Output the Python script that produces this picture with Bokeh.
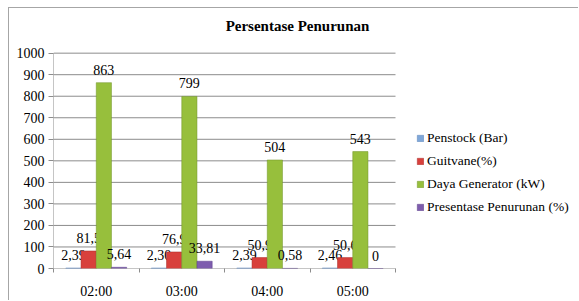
from bokeh.plotting import figure
from bokeh.models import ColumnDataSource, Legend, LegendItem, FixedTicker, Range1d, Label
from bokeh.core.properties import value
from bokeh.embed import file_html
from bokeh.resources import INLINE

categories = ["02:00", "03:00", "04:00", "05:00"]
penstock = [2.39, 2.30, 2.39, 2.46]
guitvane = [81.5, 76.9, 50.9, 50.6]
daya = [863, 799, 504, 543]
presentase = [5.64, 33.81, 0.58, 0]

series_names = ["Penstock (Bar)", "Guitvane(%)", "Daya Generator (kW)", "Presentase Penurunan (%)"]
series_values = [penstock, guitvane, daya, presentase]
series_decimals = [2, 1, 0, 2]
series_colors = ["#7FA7D9", "#D8403C", "#97BF3C", "#7E5DAE"]
series_lines = ["#5A83B8", "#A82C29", "#6E9226", "#5B3F88"]

y_ticks = [0, 100, 200, 300, 400, 500, 600, 700, 800, 900, 1000]
title_text = "Persentase Penurunan"

SERIF = "Liberation Serif"
GRID = "#8c8c8c"

W, H = 570, 293
LEFT, BOTTOM = 44, 31
CAT_PX = 85.5          # pixel width of one category slot
AXIS_PX = 217          # pixel height of the value axis (0..max tick)
frame_w = W - LEFT
frame_h = H - BOTTOM
x_end = len(categories) * frame_w / (len(categories) * CAT_PX)
y_end = max(y_ticks) * frame_h / AXIS_PX

p = figure(width=W, height=H, output_backend="svg", toolbar_location=None,
           x_range=Range1d(0, x_end), y_range=Range1d(0, y_end),
           min_border_left=LEFT, min_border_right=0, min_border_top=0, min_border_bottom=BOTTOM)
p.styles = {"border-left": "1px solid #a6a6a6", "border-top": "1px solid #a6a6a6",
            "margin-left": "8px", "margin-top": "7px"}

p.outline_line_color = None
p.xgrid.grid_line_color = None
p.ygrid.grid_line_color = None

n_t = len(y_ticks)
# horizontal gridlines spanning only the category area
p.segment(x0=[0] * n_t, x1=[len(categories)] * n_t, y0=y_ticks, y1=y_ticks,
          line_color=GRID, line_width=1)
# value axis line, only up to the top tick
p.segment(x0=[0], x1=[0], y0=[min(y_ticks)], y1=[max(y_ticks)], line_color=GRID, line_width=1)

bw = 0.178
items = []
for j, (name, vals, dec, col, lc) in enumerate(zip(series_names, series_values, series_decimals, series_colors, series_lines)):
    xs = [i + 0.5 + (j - 1.5) * bw for i in range(len(categories))]
    labels = ["0" if v == 0 else (f"{v:.{dec}f}".replace(".", ",")) for v in vals]
    src = ColumnDataSource(dict(x=xs, top=vals, label=labels))
    r = p.vbar(x="x", top="top", width=bw, bottom=0, source=src,
               fill_color=col, line_color=lc, line_width=0.5)
    p.text(x="x", y="top", text="label", source=src, text_align="center",
           text_baseline="bottom", y_offset=-8, text_font=value(SERIF),
           text_font_size="14px", text_color="#000000")
    items.append(LegendItem(label=name, renderers=[r]))

# title
p.add_layout(Label(x=244, y=243, x_units="screen", y_units="screen", text=title_text,
                   text_align="center", text_baseline="middle", text_font=SERIF,
                   text_font_size="15px", text_font_style="bold", text_color="#000000"))

# axes
xa = p.xaxis[0]
xa.ticker = FixedTicker(ticks=[i + 0.5 for i in range(len(categories))],
                        minor_ticks=list(range(len(categories) + 1)))
xa.major_label_overrides = {i + 0.5: c for i, c in enumerate(categories)}
xa.major_tick_line_color = None
xa.major_tick_out = 0
xa.major_tick_in = 0
xa.minor_tick_line_color = GRID
xa.minor_tick_out = 4
xa.minor_tick_in = 0
xa.axis_line_color = None
xa.major_label_standoff = 11
xa.major_label_text_font = SERIF
xa.major_label_text_font_size = "14px"
xa.major_label_text_color = "#000000"

ya = p.yaxis[0]
ya.ticker = FixedTicker(ticks=y_ticks)
ya.minor_tick_line_color = None
ya.major_tick_line_color = GRID
ya.major_tick_out = 5
ya.major_tick_in = 0
ya.axis_line_color = None
ya.major_label_standoff = 4
ya.major_label_text_font = SERIF
ya.major_label_text_font_size = "14px"
ya.major_label_text_color = "#000000"

legend = Legend(items=items, location=(363, 50), orientation="vertical",
                glyph_width=8, glyph_height=8, label_height=23, spacing=0,
                label_standoff=3, padding=0, margin=0,
                border_line_color=None, background_fill_alpha=0,
                label_text_font=SERIF, label_text_font_size="13.5px",
                label_text_color="#000000")
p.add_layout(legend, "center")

open("out.html", "w").write(file_html(p, INLINE))
